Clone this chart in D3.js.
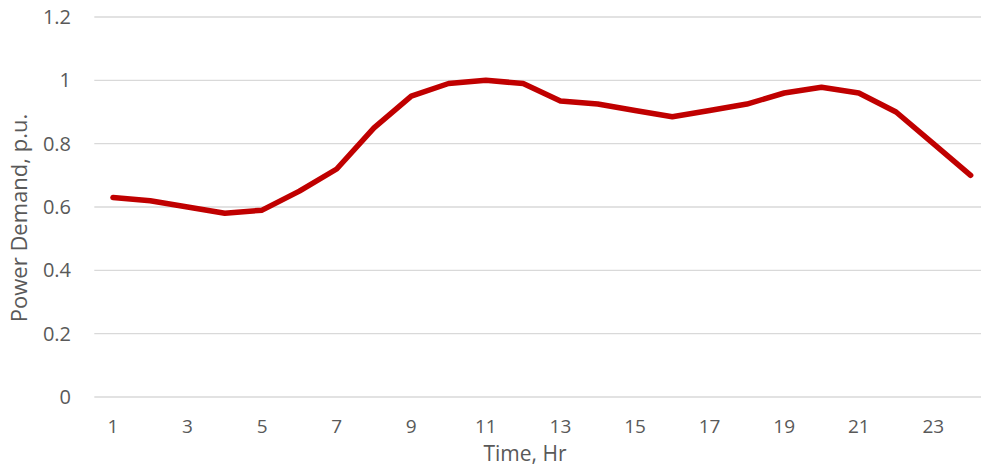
<!DOCTYPE html>
<html><head><meta charset="utf-8">
<script src="https://cdn.jsdelivr.net/npm/d3@7"></script>
<style>
body{margin:0;background:#fff;}
svg text{font-family:"Open Sans",sans-serif;fill:#595959;}
</style></head>
<body><svg id="c" width="981" height="467"></svg>
<script>
const hours = [1,2,3,4,5,6,7,8,9,10,11,12,13,14,15,16,17,18,19,20,21,22,23,24];
const demand = [0.63,0.62,0.60,0.58,0.59,0.65,0.72,0.85,0.95,0.99,1.00,0.99,0.935,0.925,0.905,0.885,0.905,0.925,0.96,0.978,0.96,0.90,0.80,0.70];
const yTicks = [0,0.2,0.4,0.6,0.8,1,1.2];
const xTickLabels = [1,3,5,7,9,11,13,15,17,19,21,23];

const svg = d3.select("#c");
const plotL = 94.3, plotR = 989.3, plotT = 17, plotB = 397;
const x = d3.scaleBand().domain(hours).range([plotL, plotR]);
const y = d3.scaleLinear().domain([0,1.2]).range([plotB, plotT]);

const g = svg.append("g");
g.selectAll("line.grid").data(yTicks).join("line")
  .attr("x1", plotL).attr("x2", plotR)
  .attr("y1", d=>y(d)).attr("y2", d=>y(d))
  .attr("stroke", "#d9d9d9").attr("stroke-width", 1.3);

g.selectAll("text.yt").data(yTicks).join("text")
  .attr("x", 71).attr("y", d=>y(d)).attr("dy","0.35em")
  .attr("text-anchor","end").attr("font-size", 20)
  .text(d=>d);

g.selectAll("text.xt").data(xTickLabels).join("text")
  .attr("x", d=>x(d)+x.bandwidth()/2).attr("y", 426).attr("dy","0.35em")
  .attr("text-anchor","middle").attr("font-size", 19)
  .text(d=>d);

const line = d3.line().x((d,i)=>x(hours[i])+x.bandwidth()/2).y(d=>y(d));
g.append("path").datum(demand).attr("d", line)
  .attr("fill","none").attr("stroke","#c00000").attr("stroke-width",5.5)
  .attr("stroke-linejoin","round").attr("stroke-linecap","round");

svg.append("text").attr("x", 525).attr("y", 454).attr("dy","0.35em")
  .attr("text-anchor","middle").attr("font-size", 21).text("Time, Hr");
svg.append("text").attr("transform","translate(19,218) rotate(-90)").attr("dy","0.35em")
  .attr("text-anchor","middle").attr("font-size", 22).text("Power Demand, p.u.");
</script></body></html>
